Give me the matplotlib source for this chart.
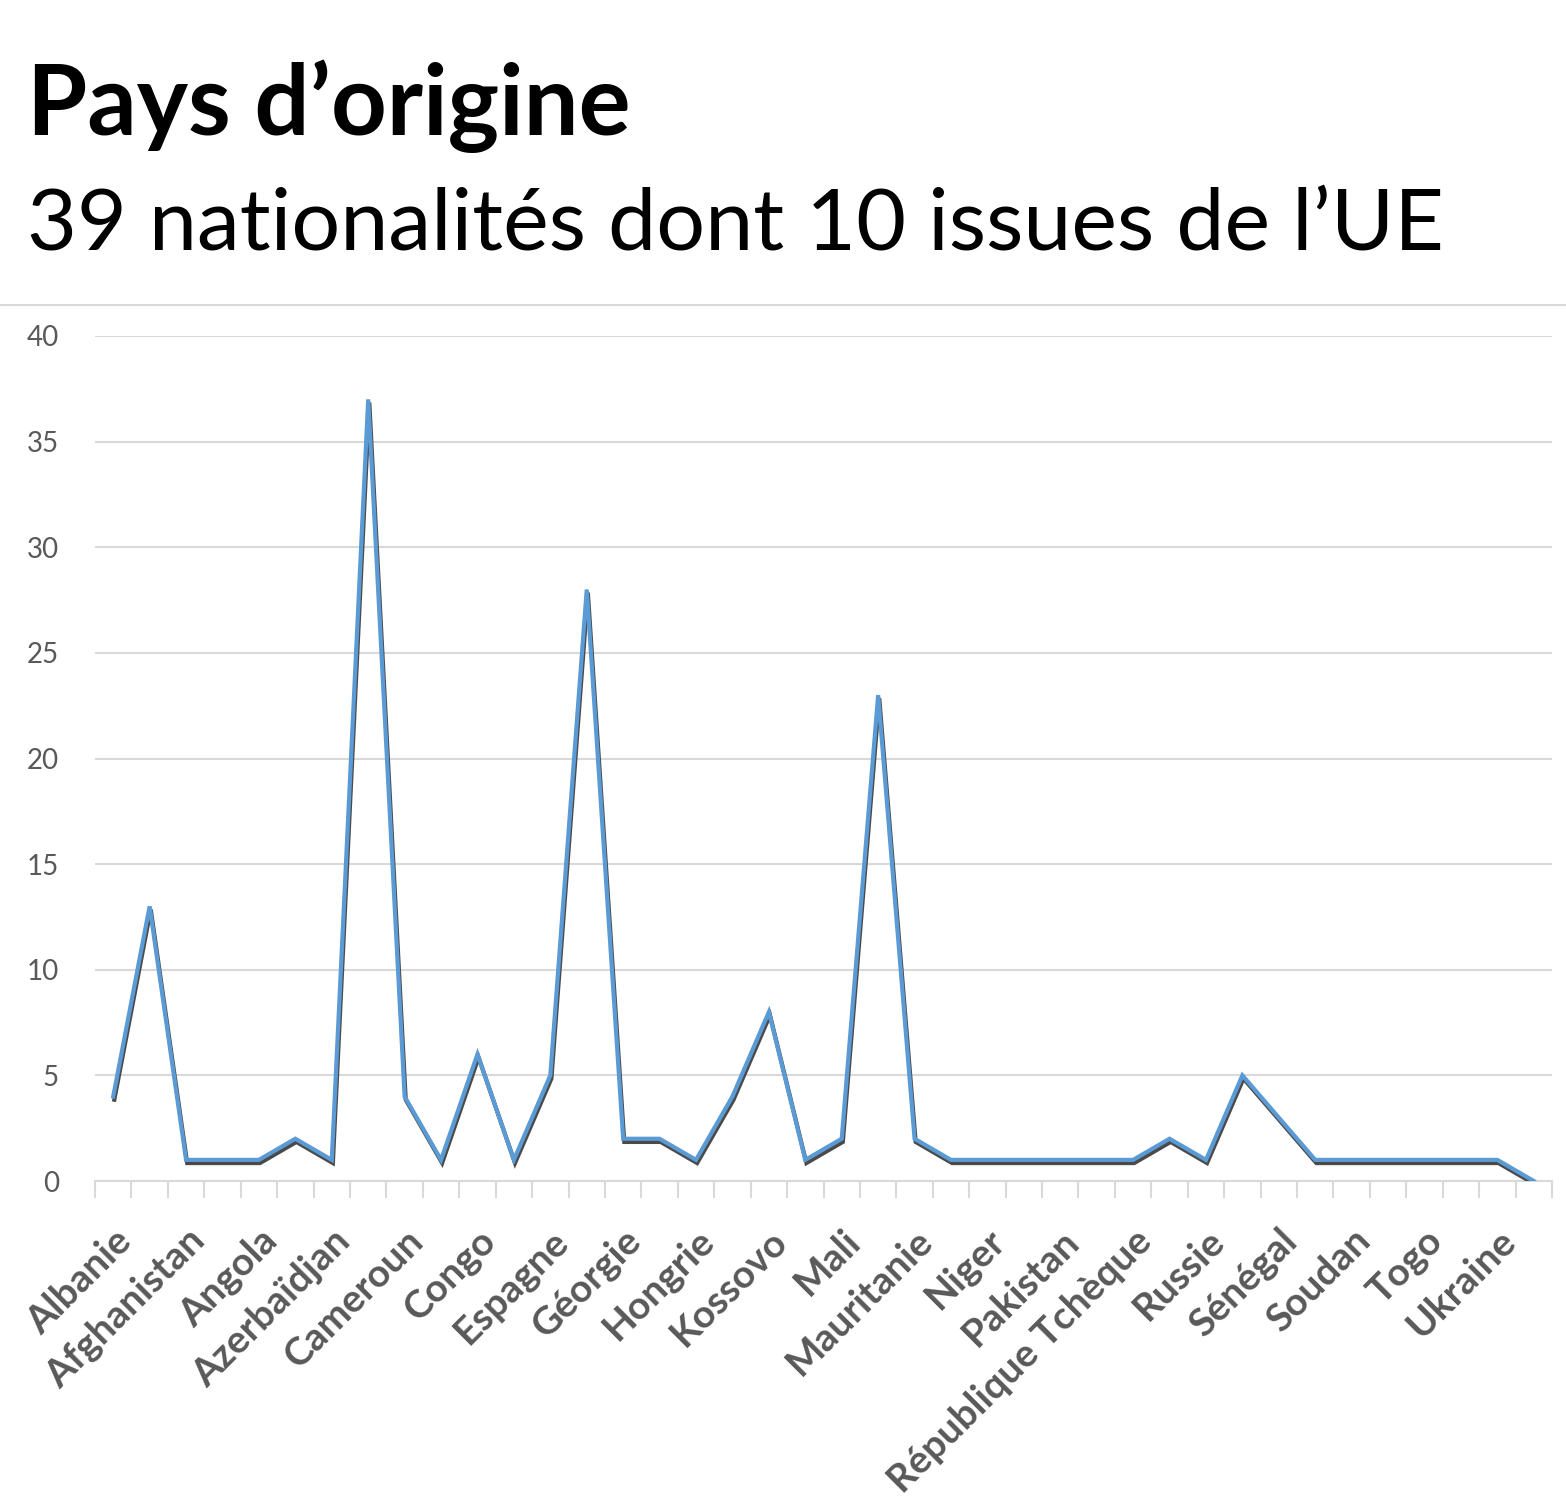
import numpy as np
import matplotlib
matplotlib.use("Agg")
import matplotlib.pyplot as plt
import matplotlib.patheffects as pe
from matplotlib.lines import Line2D

# 40 categories, Excel only shows every other label
pays = ["Albanie", "Algérie", "Afghanistan", "Allemagne", "Angola", "Arménie",
        "Azerbaïdjan", "Bangladesh", "Cameroun", "Comores", "Congo", "Côte d'Ivoire",
        "Espagne", "Gabon", "Géorgie", "Guinée", "Hongrie", "Italie", "Kossovo",
        "Macédoine", "Mali", "Maroc", "Mauritanie", "Moldavie", "Niger", "Nigeria",
        "Pakistan", "Portugal", "République Tchèque", "Roumanie", "Russie", "Serbie",
        "Sénégal", "Somalie", "Soudan", "Syrie", "Togo", "Tunisie", "Ukraine", "Viêt Nam"]
effectifs = [4, 13, 1, 1, 1, 2, 1, 37, 4, 1, 6, 1, 5, 28, 2, 2, 1, 4, 8, 1,
             2, 23, 2, 1, 1, 1, 1, 1, 1, 2, 1, 5, 3, 1, 1, 1, 1, 1, 1, 0]
y_ticks = [0, 5, 10, 15, 20, 25, 30, 35, 40]

W, H = 1566, 1497
fig = plt.figure(figsize=(W / 100, H / 100), dpi=100)

grey = "#595959"
fig.text(27 / W, 1 - 135 / H, "Pays d\u2019origine", fontsize=70, fontweight="bold",
         family="Lato", color="black", ha="left", va="baseline")
fig.text(27 / W, 1 - 250 / H, "39 nationalités dont 10 issues de l\u2019UE", fontsize=62,
         family="Lato", color="black", ha="left", va="baseline")
fig.add_artist(Line2D([0, 1], [1 - 305 / H, 1 - 305 / H], color="#d9d9d9", lw=1.5,
                      transform=fig.transFigure))

ax = fig.add_axes([95 / W, 1 - 1181 / H, (1552 - 95) / W, (1181 - 336) / H])
x = np.arange(len(pays))
ax.plot(x, effectifs, color="#5b9bd5", lw=3.0, solid_joinstyle="miter",
        path_effects=[pe.SimpleLineShadow(offset=(0.8, -2.3), shadow_color="#4a4a4a", alpha=1.0),
                      pe.Normal()], zorder=3)

ax.set_xlim(-0.5, len(pays) - 0.5)
ax.set_ylim(0, 40)
ax.set_yticks(y_ticks)
ax.set_yticklabels([str(v) for v in y_ticks], fontsize=20, color=grey, family="Lato")
ax.tick_params(axis="y", length=0, pad=26)
ax.grid(axis="y", color="#d9d9d9", lw=1.5)

ax.set_xticks(x[::2])
ax.set_xticklabels(pays[::2], rotation=45, ha="right", va="top", rotation_mode="anchor",
                   fontsize=28, fontweight="bold", color=grey, family="Lato")
ax.set_xticks(np.arange(len(pays) + 1) - 0.5, minor=True)
ax.tick_params(axis="x", which="major", length=0, pad=30)
ax.tick_params(axis="x", which="minor", length=12, width=1.5, color="#d9d9d9")

for s in ["top", "right", "left"]:
    ax.spines[s].set_visible(False)
ax.spines["bottom"].set_color("#d9d9d9")
ax.spines["bottom"].set_linewidth(1.5)
ax.set_axisbelow(True)

fig.savefig("out.png", dpi=100)
